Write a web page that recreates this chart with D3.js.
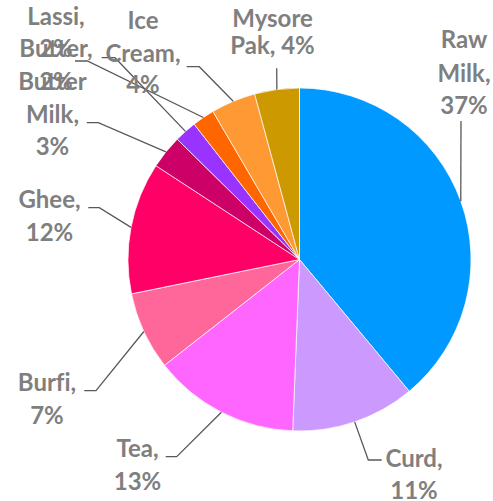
<!DOCTYPE html>
<html>
<head>
<meta charset="utf-8">
<script src="https://cdn.jsdelivr.net/npm/d3@7/dist/d3.min.js"></script>
<style>
  html, body { margin: 0; padding: 0; background: #ffffff; }
  svg { display: block; }
  text { font-variant-ligatures: none; }
</style>
</head>
<body>
<svg id="chart" width="493" height="501"></svg>
<script>
// ---- Data ----
const categories = ["Raw Milk", "Curd", "Tea", "Burfi", "Ghee", "Butter Milk", "Butter", "Lassi", "Ice Cream", "Mysore Pak"];
const values = [37, 11.1, 13.1, 7, 11.8, 3, 2, 2, 4, 4];
const colors = ["#0099FF", "#CC99FF", "#FF66FF", "#FF6699", "#FF0066", "#CC0066", "#9933FF", "#FF6600", "#FF9933", "#CC9900"];

// ---- Label layout (words per line, text centre, baselines, leader elbow/end) ----
const labelLayout = [
  { words: [1, 1, 1], cx: 464, base: [48.3, 81.7, 114], leader: [[461, 121]] },
  { words: [1, 1], cx: 414, base: [467.3, 498.5], leader: [[368.3, 460], [381.7, 460]] },
  { words: [1, 1], cx: 137.5, base: [457.3, 489.5], leader: [[176.7, 456.7], [165.7, 456.7]] },
  { words: [1, 1], cx: 47, base: [391, 424], leader: [[96, 390.7], [84.3, 390.7]] },
  { words: [1, 1], cx: 49.5, base: [208.3, 241], leader: [[99.3, 207.7], [88.3, 207.7]] },
  { words: [1, 1, 1], cx: 52.5, base: [90.3, 122.7, 155.3], leader: [[98.3, 122.7], [86.7, 122.7]] },
  { words: [1, 1], cx: 56, base: [57.3, 90.3], leader: [[115, 57.7], [101.7, 57.7]] },
  { words: [1, 1], cx: 56, base: [25, 57.3], leader: [[87.3, 61], [75, 61]] },
  { words: [1, 1, 1], cx: 143, base: [29.3, 61.7, 93.3], leader: [[199.3, 66.7], [186.7, 66.7]] },
  { words: [1, 2], cx: 272.5, base: [26.7, 53.5], leader: [[276.7, 68.3]] }
];

const cx = 299.5, cy = 259.5, r = 171.5;

const svg = d3.select("#chart");
const g = svg.append("g").attr("transform", `translate(${cx},${cy})`);

const data = categories.map((c, i) => ({ name: c, value: values[i], color: colors[i], layout: labelLayout[i] }));

const pie = d3.pie().value(d => d.value).sort(null);
const arc = d3.arc().innerRadius(0).outerRadius(r);
const arcs = pie(data);

g.selectAll("path.slice")
  .data(arcs)
  .enter()
  .append("path")
  .attr("class", "slice")
  .attr("d", arc)
  .attr("fill", d => d.data.color)
  .attr("stroke", "#ffffff")
  .attr("stroke-width", 0.7);

// leader lines
const line = d3.line();
svg.selectAll("path.leader")
  .data(arcs)
  .enter()
  .append("path")
  .attr("class", "leader")
  .attr("d", d => {
    const mid = (d.startAngle + d.endAngle) / 2;
    const start = [cx + r * Math.sin(mid), cy - r * Math.cos(mid)];
    return line([start, ...d.data.layout.leader]);
  })
  .attr("fill", "none")
  .attr("stroke", "#595959")
  .attr("stroke-width", 1.3);

// labels
const fmt = v => Math.round(v) + "%";
arcs.forEach(d => {
  const L = d.data.layout;
  const words = (d.data.name + ", " + fmt(d.data.value)).split(" ");
  let idx = 0;
  const lines = L.words.map(n => { const s = words.slice(idx, idx + n).join(" "); idx += n; return s; });
  const t = svg.append("text")
    .attr("text-anchor", "middle")
    .attr("font-family", "Lato, 'Open Sans', sans-serif")
    .attr("font-weight", "bold")
    .attr("font-size", "24px")
    .attr("fill", "#7f7f7f");
  lines.forEach((s, k) => {
    t.append("tspan").attr("x", L.cx).attr("y", L.base[k]).text(s);
  });
});
</script>
</body>
</html>
